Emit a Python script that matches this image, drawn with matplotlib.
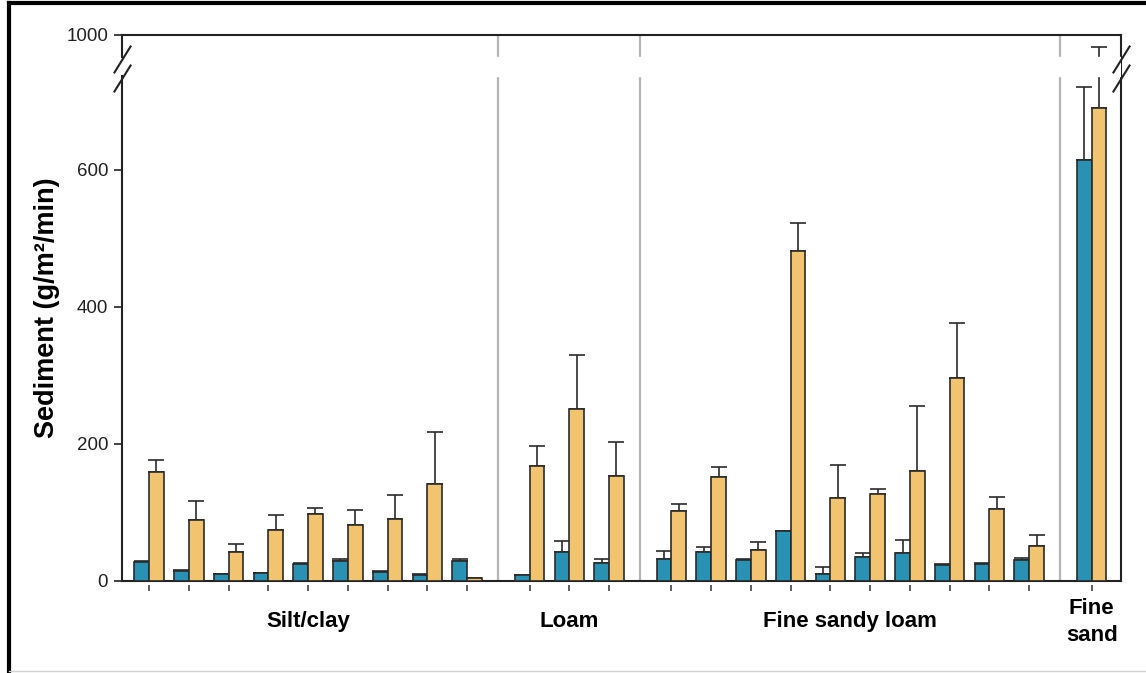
import matplotlib
matplotlib.use("Agg")
import matplotlib.pyplot as plt
from matplotlib.transforms import blended_transform_factory
from matplotlib.lines import Line2D

plt.rcParams['font.family'] = ['Liberation Sans', 'DejaVu Sans']

# soil groups and number of sites in each
groups = ['Silt/clay', 'Loam', 'Fine sandy loam', 'Fine\nsand']
group_sizes = [9, 3, 10, 1]

# mean sediment (g/m2/min) and upper error for the two treatments
blue_vals = [26.7, 14.6, 9.3, 10.7, 24.3, 28.2, 12.7, 8.8, 29.2,
             8.3, 41.3, 25.3,
             31.6, 41.4, 30.7, 72.0, 10.2, 34.5, 39.9, 22.9, 23.8, 30.2,
             614.6]
blue_err = [2.5, 1.0, 0.5, 0.7, 1.5, 3.8, 0.5, 0.5, 2.8,
            0.5, 16.1, 5.8,
            12.2, 7.3, 0.8, 1.0, 9.3, 6.4, 19.0, 1.1, 1.2, 2.4,
            106.4]
orange_vals = [158.0, 89.0, 41.8, 74.5, 96.8, 81.8, 89.5, 141.6, 3.0,
               167.4, 251.0, 152.3,
               101.2, 150.9, 44.3, 481.3, 120.7, 126.5, 159.6, 296.4, 104.1, 50.6,
               690.5]
orange_err = [18.6, 27.8, 12.2, 21.9, 9.8, 21.8, 35.5, 75.9, 0.0,
              29.6, 78.0, 49.6,
              10.7, 15.0, 11.7, 41.3, 48.2, 7.3, 95.9, 80.2, 18.1, 16.6,
              89.1]

ytick_vals = [0, 200, 400, 600]
top_label = '1000'

blue = '#2891b4'
orange = '#f2c46f'
edge = '#2b2b2b'

# x positions: unit spacing inside a group, wider gap between groups
gap = 1.57
xs = []
centers = []
seps = []
start = 0.0
for gi, n in enumerate(group_sizes):
    pos = [start + i for i in range(n)]
    xs += pos
    centers.append((pos[0] + pos[-1]) / 2)
    if gi < len(group_sizes) - 1:
        seps.append(pos[-1] + gap / 2)
    start = pos[-1] + gap

fig = plt.figure(figsize=(11.46, 6.73), dpi=100)
ax = fig.add_axes([0.1065, 0.1374, 0.8717, 0.8106])

w = 0.37
ytop = 797
brk_lo, brk_hi = 737, 765

ax.bar([x - w / 2 for x in xs], blue_vals, w, color=blue, edgecolor=edge, linewidth=1.2, zorder=3)
ax.bar([x + w / 2 for x in xs], orange_vals, w, color=orange, edgecolor=edge, linewidth=1.2, zorder=3)
ax.errorbar([x - w / 2 for x in xs], blue_vals, yerr=[[0] * len(xs), blue_err], fmt='none',
            ecolor=edge, elinewidth=1.2, capsize=6, capthick=1.2, zorder=2)
ax.errorbar([x + w / 2 for x in xs], orange_vals, yerr=[[0] * len(xs), orange_err], fmt='none',
            ecolor=edge, elinewidth=1.2, capsize=6, capthick=1.2, zorder=2)

for s in seps:
    ax.axvline(s, color='#b5b5b5', linewidth=1.6, zorder=1)

# axis break band
ax.axhspan(brk_lo, brk_hi, color='white', zorder=5)

ax.set_xlim(xs[0] - 0.68, xs[-1] + 0.74)
ax.set_ylim(0, ytop)

ax.spines['left'].set_visible(False)
for sp in ['top', 'right', 'bottom']:
    ax.spines[sp].set_linewidth(1.5)
    ax.spines[sp].set_color('#222222')

tr_y = blended_transform_factory(ax.transAxes, ax.transData)
ax.plot([0, 0], [0, brk_lo], transform=tr_y, color='#222222', lw=1.5, clip_on=False, zorder=6)
ax.plot([0, 0], [brk_hi, ytop], transform=tr_y, color='#222222', lw=1.5, clip_on=False, zorder=6)
slash = [(-0.62, -1), (0.62, 1)]
for xa in [0, 1]:
    ax.plot([xa, xa], [762, 734], transform=tr_y, marker=slash, markersize=20,
            linestyle='none', color='#222222', mew=1.5, clip_on=False, zorder=7)

ax.set_yticks(ytick_vals + [ytop])
ax.set_yticklabels([str(v) for v in ytick_vals] + [top_label])
ax.tick_params(axis='y', direction='out', length=6, width=1.2, labelsize=13.5, pad=4, colors='#222222')
ax.set_xticks([])

# little tick marks under each pair, detached from the axis
tr_x = blended_transform_factory(ax.transData, ax.transAxes)
ax.plot(xs, [-0.0128] * len(xs), transform=tr_x, marker='|', markersize=5, mew=1.1,
        linestyle='none', color='#333333', clip_on=False)

for c, g in zip(centers, groups):
    ax.text(c, -0.076, g, transform=tr_x, ha='center', va='center', fontsize=16,
            fontweight='bold', linespacing=1.35)

ax.set_ylabel('Sediment (g/m²/min)', fontsize=19.5, fontweight='bold')
ax.yaxis.set_label_coords(-0.062, 0.5)

# outer frame
fig.add_artist(Line2D([9 / 1146, 9 / 1146], [0.0, 1 - 3 / 673], transform=fig.transFigure,
                      color='black', lw=3))
fig.add_artist(Line2D([9 / 1146, 1.0], [1 - 3 / 673, 1 - 3 / 673], transform=fig.transFigure,
                      color='black', lw=3))
fig.add_artist(Line2D([9 / 1146, 1.0], [2 / 673, 2 / 673], transform=fig.transFigure,
                      color='#d0d0d0', lw=1))

fig.savefig('out.png', dpi=100)
